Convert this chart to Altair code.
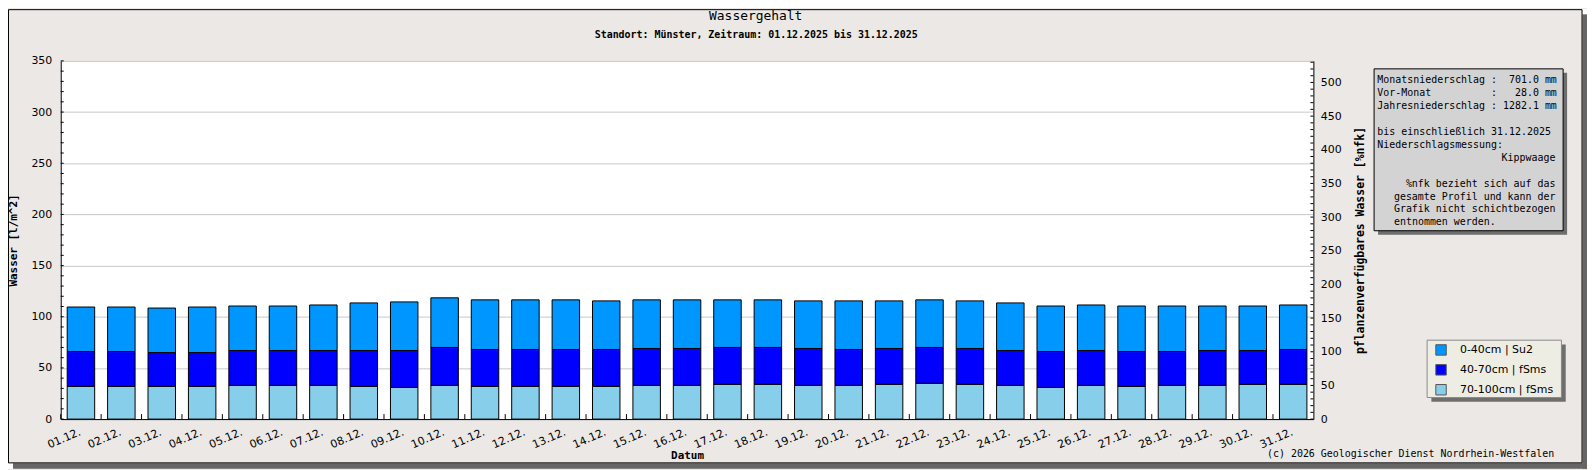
import altair as alt
import pandas as pd

# ---------------- data ----------------
days = ["01.12.", "02.12.", "03.12.", "04.12.", "05.12.", "06.12.", "07.12.", "08.12.",
        "09.12.", "10.12.", "11.12.", "12.12.", "13.12.", "14.12.", "15.12.", "16.12.",
        "17.12.", "18.12.", "19.12.", "20.12.", "21.12.", "22.12.", "23.12.", "24.12.",
        "25.12.", "26.12.", "27.12.", "28.12.", "29.12.", "30.12.", "31.12."]
schichten = ["0-40cm | Su2", "40-70cm | fSms", "70-100cm | fSms"]
farben = ["#0096FF", "#0000FF", "#87CEEB"]
w_0_40 = [43.5, 43.5, 43.5, 44.5, 43.5, 43.5, 44.5, 46.5, 47.5, 48.5, 48.5, 48.5, 48.5, 47.5, 47.5, 47.5,
          46.5, 46.5, 46.5, 47.5, 46.5, 46.5, 46.5, 46.5, 44.5, 44.5, 44.5, 44.5, 43.5, 43.5, 43.5]
w_40_70 = [34, 34, 33, 33, 34, 34, 34, 35, 36, 37, 36, 36, 36, 36, 36, 36,
           36, 36, 36, 35, 35, 35, 35, 34, 35, 34, 34, 33, 34, 33, 34]
w_70_100 = [32, 32, 32, 32, 33, 33, 33, 32, 31, 33, 32, 32, 32, 32, 33, 33,
            34, 34, 33, 33, 34, 35, 34, 33, 31, 33, 32, 33, 33, 34, 34]
left_ticks = list(range(0, 351, 10))
left_labels = list(range(0, 351, 50))
right_ticks = list(range(0, 531, 10))
right_labels = list(range(0, 501, 50))

info_lines_left = ["Monatsniederschlag :  701.0 mm",
                   "Vor-Monat          :   28.0 mm",
                   "Jahresniederschlag : 1282.1 mm",
                   "bis einschließlich 31.12.2025",
                   "Niederschlagsmessung:"]
info_lines_right = ["Kippwaage",
                    "  %nfk bezieht sich auf das",
                    "gesamte Profil und kann der",
                    "Grafik nicht schichtbezogen"]
info_last = "entnommen werden."

rows = []
for i, d in enumerate(days):
    rows.append({"Tag": d, "Schicht": schichten[2], "Wert": w_70_100[i], "Ord": 0})
    rows.append({"Tag": d, "Schicht": schichten[1], "Wert": w_40_70[i], "Ord": 1})
    rows.append({"Tag": d, "Schicht": schichten[0], "Wert": w_0_40[i], "Ord": 2})
df = pd.DataFrame(rows)

W, H = 1259, 360
BG = "#EBE8E6"
MONO = "DejaVu Sans Mono"
SANS = "DejaVu Sans"
one = pd.DataFrame({"k": [0]})

xscale = alt.Scale(domain=days, paddingInner=0.32, paddingOuter=0.16)
yscale = alt.Scale(domain=[0, 350], nice=False)

xaxis = alt.Axis(labelAngle=337, labelAlign="right", labelBaseline="top",
                 labelPadding=7, labelOffset=-3, ticks=False, grid=False, domainColor="black",
                 titleFont=MONO, titleFontWeight="bold", titleFontSize=11,
                 titleX=629.5, titleY=37, titleBaseline="middle")
yaxis = alt.Axis(values=left_labels, ticks=False, grid=True, gridColor="#C8C8C8",
                 domainColor="black", labelPadding=9,
                 titleFont=MONO, titleFontWeight="bold", titleFontSize=11,
                 titleAngle=270, titleX=-47, titleY=180, titleAlign="center",
                 titleBaseline="middle")

bars = alt.Chart(df).mark_bar(stroke="black", strokeWidth=1).encode(
    x=alt.X("Tag:N", sort=days, scale=xscale, title="Datum", axis=xaxis),
    y=alt.Y("Wert:Q", stack="zero", scale=yscale, title="Wasser [l/m^2]", axis=yaxis),
    color=alt.Color("Schicht:N", scale=alt.Scale(domain=schichten, range=farben),
                    legend=alt.Legend(title=None, orient="none", legendX=1381.3, legendY=284.5,
                                      fillColor="transparent", strokeColor="transparent",
                                      padding=0, rowPadding=4, symbolType="square",
                                      symbolSize=110, symbolStrokeColor="#555555",
                                      symbolStrokeWidth=1, symbolOpacity=1,
                                      labelFont=SANS, labelFontSize=11, labelColor="black",
                                      labelOffset=13, zindex=1)),
    order=alt.Order("Ord:Q", sort="ascending"),
)

xticks = alt.Chart(pd.DataFrame({"Tag": days})).mark_rule(color="black", xOffset=-6.5).encode(
    x=alt.X("Tag:N", sort=days, scale=xscale, bandPosition=0, title="Datum", axis=xaxis),
    y=alt.value(H), y2=alt.value(H - 5),
)

yticks = alt.Chart(pd.DataFrame({"Wert": left_ticks})).mark_rule(color="black").encode(
    y=alt.Y("Wert:Q", scale=yscale, title="Wasser [l/m^2]", axis=yaxis),
    x=alt.value(0), x2=alt.value(3),
)


def rect(x, x2, y, y2, **kw):
    return alt.Chart(one).mark_rect(**kw).encode(
        x=alt.value(x), x2=alt.value(x2), y=alt.value(y), y2=alt.value(y2))


def text(t, x, y, align="left", size=10, weight="normal", font=MONO):
    return alt.Chart(one).mark_text(text=t.replace(" ", "\u00a0"), align=align, baseline="middle",
                                    font=font, fontSize=size, fontWeight=weight,
                                    color="black").encode(x=alt.value(x), y=alt.value(y))


deco = [
    # frame shadow + corners
    rect(1529.5, 1534, -47, 410, fill="#666666"),
    rect(-48, 1534, 404.5, 410, fill="#666666"),
    rect(1529.5, 1534, -52, -47, fill="white"),
    rect(-53, -48, 404.5, 410, fill="white"),
    rect(-52.5, 1529, -51.5, 404, fill="transparent", stroke="black", strokeWidth=1),
    # info box
    rect(1324, 1514, 12, 174.7, fill="#6E6E6E"),
    rect(1320, 1510, 8, 170.7, fill="#D3D3D3", stroke="black", strokeWidth=1),
    # legend box
    rect(1377.6, 1512.6, 285, 342.6, fill="#6E6E6E"),
    rect(1373.3, 1508.3, 280.7, 338.3, fill="#EDEDE4", stroke="#8A8A8A", strokeWidth=1),
]

texts = [
    text("Wassergehalt", 698.5, -45, align="center", size=13),
    text("Standort: Münster, Zeitraum: 01.12.2025 bis 31.12.2025", 699, -26,
         align="center", size=10, weight="bold"),
    text("(c) 2026 Geologischer Dienst Nordrhein-Westfalen", 1501, 395, align="right", size=10),
]
ys_left = [19.3, 32.3, 45.3, 71.3, 84.3]
for t, yy in zip(info_lines_left, ys_left):
    texts.append(text(t, 1323.3, yy))
ys_right = [97.3, 123.3, 136.3, 149.3]
for t, yy in zip(info_lines_right, ys_right):
    texts.append(text(t, 1502.3, yy, align="right"))
texts.append(text(info_last, 1340, 162.3))

left_group = alt.layer(*deco, bars, xticks, yticks, *texts)

right = alt.Chart(pd.DataFrame({"p": right_ticks})).mark_rule(color="black").encode(
    y=alt.Y("p:Q", scale=alt.Scale(domain=[0, 532], nice=False),
            title="pflanzenverfügbares Wasser [%nfk]",
            axis=alt.Axis(orient="right", values=right_labels, ticks=False, grid=False,
                          domainColor="black", labelPadding=7,
                          titleFont=MONO, titleFontWeight="bold", titleFontSize=11.5,
                          titleAngle=270, titleX=47, titleY=180, titleAlign="center",
                          titleBaseline="middle")),
    x=alt.value(W), x2=alt.value(W - 3),
)

chart = alt.layer(left_group, right).resolve_scale(y="independent").properties(
    width=W, height=H,
    autosize=alt.AutoSizeParams(type="none"),
    padding={"left": 53, "top": 52, "right": 275, "bottom": 50},
).configure(background=BG).configure_view(fill="white", stroke=None).configure_axis(
    labelFont=SANS, labelFontSize=11, labelColor="black", titleColor="black",
)

chart.save("out.html", embed_options={"renderer": "svg", "actions": False})
